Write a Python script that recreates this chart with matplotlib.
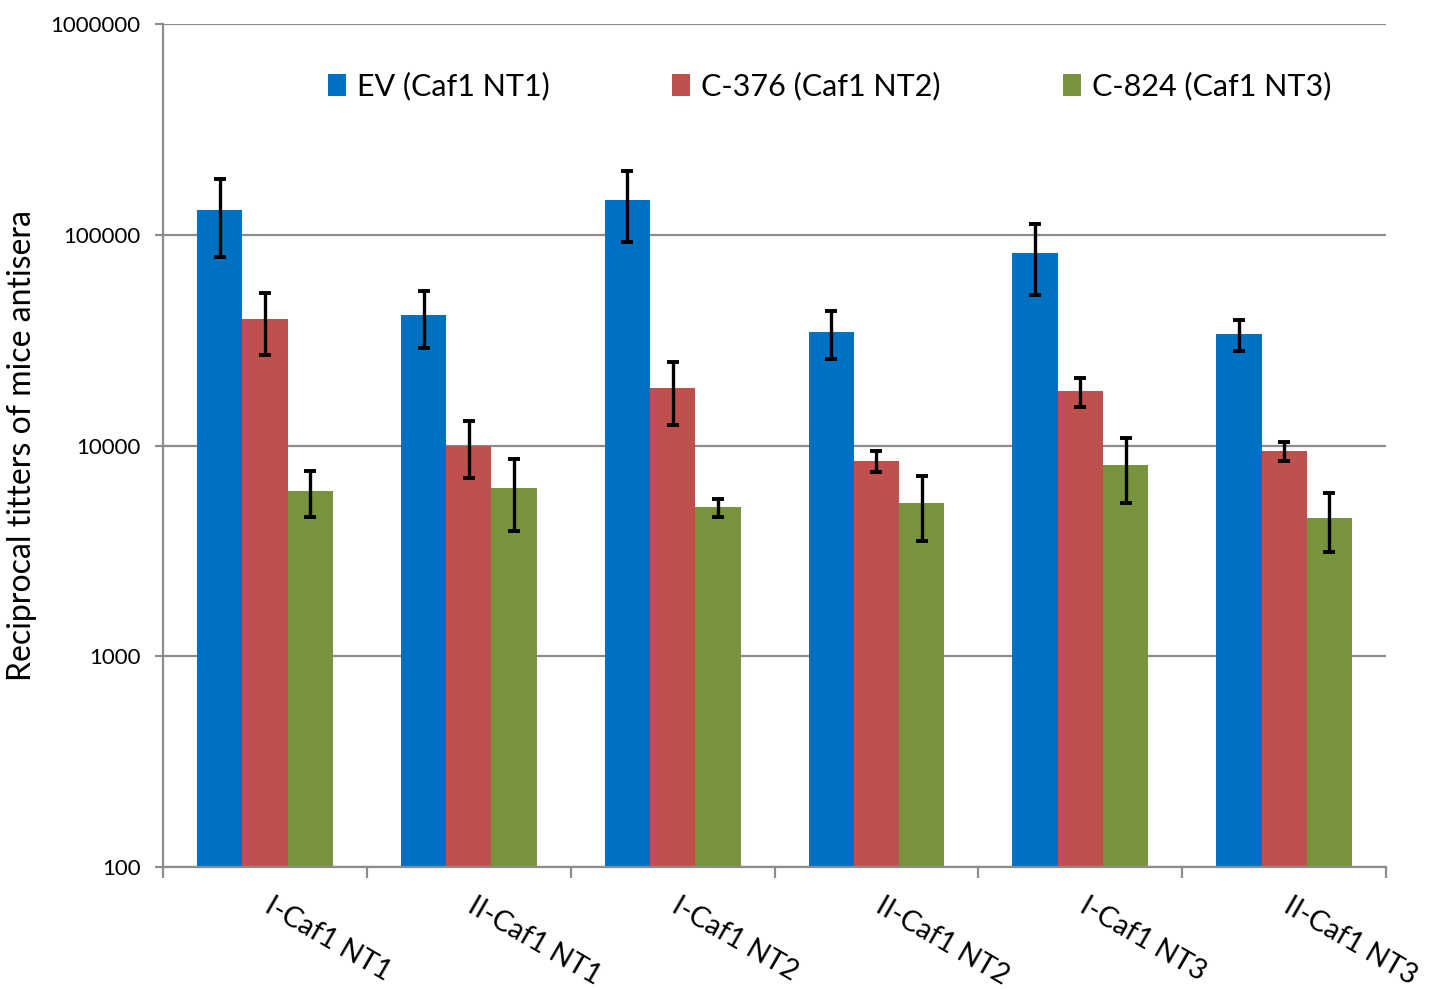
import numpy as np
import matplotlib
matplotlib.use("Agg")
import matplotlib.pyplot as plt
from matplotlib.ticker import FixedLocator, NullLocator

plt.rcParams['font.family'] = ['Lato', 'DejaVu Sans']

groups = ["I-Caf1 NT1", "II-Caf1 NT1", "I-Caf1 NT2",
          "II-Caf1 NT2", "I-Caf1 NT3", "II-Caf1 NT3"]
series = ["EV (Caf1 NT1)", "C-376 (Caf1 NT2)", "C-824 (Caf1 NT3)"]

ev_titer = [131000, 41600, 146000, 34600, 82000, 33800]
ev_err = [53000, 12500, 54000, 8900, 30000, 5650]
c376_titer = [40000, 10000, 18700, 8440, 18100, 9420]
c376_err = [13000, 3000, 6200, 930, 2900, 1000]
c824_titer = [6100, 6300, 5100, 5340, 8100, 4530]
c824_err = [1500, 2350, 500, 1800, 2750, 1400]

colors = ["#0070C0", "#C0504D", "#77933C"]
grid_gray = "#8C8C8C"

fig = plt.figure(figsize=(14.39, 9.9), dpi=100)
ax = fig.add_axes([0.1133, 0.1242, 0.8499, 0.8516])

x = np.arange(len(groups))
width = 0.222
values = [ev_titer, c376_titer, c824_titer]
errors = [ev_err, c376_err, c824_err]
for i in range(3):
    ax.bar(x + (i - 1) * width, values[i], width, color=colors[i],
           label=series[i], zorder=2,
           yerr=errors[i], error_kw=dict(ecolor="black", elinewidth=2.4,
                                         capsize=4.2, capthick=2.8, zorder=3))

ax.set_yscale("log")
ax.set_ylim(100, 1000000)
ax.set_xlim(-0.5, len(groups) - 0.5)
ax.yaxis.set_major_locator(FixedLocator([100, 1000, 10000, 100000, 1000000]))
ax.yaxis.set_minor_locator(NullLocator())
ax.set_yticklabels(["100", "1000", "10000", "100000", "1000000"])
ax.yaxis.grid(True, color=grid_gray, linewidth=1.6, zorder=0)
ax.set_axisbelow(True)

ax.set_xticks(x)
ax.set_xticklabels([])
ax.set_xticks(np.arange(-0.5, len(groups)), minor=True)
ax.tick_params(axis="x", which="major", length=0)
ax.tick_params(axis="x", which="minor", length=8, width=1.6, color=grid_gray)
ax.tick_params(axis="y", length=6, width=1.6, color=grid_gray,
               labelsize=16, pad=10)

for sp in ["top", "right"]:
    ax.spines[sp].set_visible(False)
for sp in ["left", "bottom"]:
    ax.spines[sp].set_color(grid_gray)
    ax.spines[sp].set_linewidth(1.6)

# category names slanted under each group
for xi, name in zip(x, groups):
    ax.text(xi + 0.04, -0.03, name, transform=ax.get_xaxis_transform(),
            rotation=-30, rotation_mode="anchor", ha="left", va="top",
            fontsize=20.5)

ax.set_ylabel("Reciprocal titters of mice antisera", fontsize=23, labelpad=10)

ax.legend(loc="center", bbox_to_anchor=(0.545, 0.926), ncol=3, frameon=False,
          fontsize=22, handlelength=0.6, handleheight=0.7, handletextpad=0.35,
          columnspacing=4.0)

fig.savefig("out.png", dpi=100)
